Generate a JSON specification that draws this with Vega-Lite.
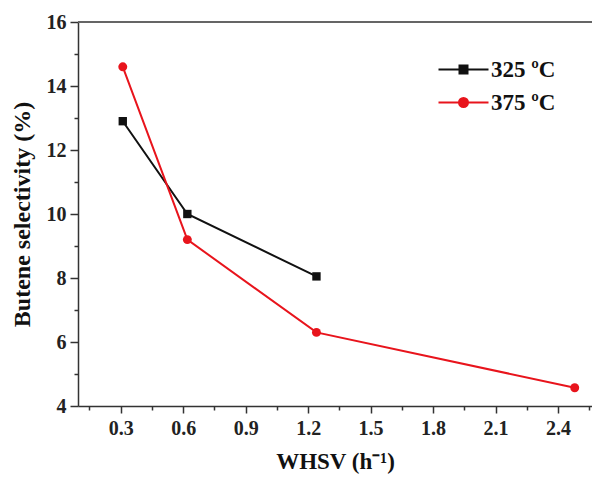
{
  "$schema": "https://vega.github.io/schema/vega-lite/v6.json",
  "autosize": "none",
  "width": 514,
  "height": 384,
  "padding": {"left": 78, "top": 22, "right": 0, "bottom": 73},
  "background": "white",
  "config": {
    "view": {"stroke": null},
    "font": "Liberation Serif",
    "axis": {
      "labelFont": "Liberation Serif",
      "labelFontWeight": "bold",
      "labelFontSize": 20,
      "labelColor": "#222",
      "titleFont": "Liberation Serif",
      "titleFontWeight": "bold",
      "titleFontSize": 23,
      "titleColor": "#111",
      "domainColor": "#333",
      "domainWidth": 1.5,
      "tickColor": "#333",
      "tickWidth": 1.5,
      "grid": false
    }
  },
  "data": {
    "values": [
      {"series": "325 ºC", "whsv": 0.31, "sel": 12.9},
      {"series": "325 ºC", "whsv": 0.62, "sel": 10.0},
      {"series": "325 ºC", "whsv": 1.24, "sel": 8.05},
      {"series": "375 ºC", "whsv": 0.31, "sel": 14.6},
      {"series": "375 ºC", "whsv": 0.62, "sel": 9.2},
      {"series": "375 ºC", "whsv": 1.24, "sel": 6.3},
      {"series": "375 ºC", "whsv": 2.48, "sel": 4.57}
    ]
  },
  "resolve": {"axis": {"x": "independent", "y": "independent"}},
  "layer": [
    {
      "mark": {"type": "rule", "color": "#666", "strokeWidth": 1.5},
      "encoding": {"y": {"datum": 16, "axis": null}}
    },
    {
      "mark": {"type": "line", "strokeWidth": 2},
      "encoding": {
        "x": {
          "field": "whsv", "type": "quantitative",
          "scale": {"domain": [0.095, 2.563], "nice": false, "zero": false},
          "axis": {
            "orient": "bottom",
            "values": [0.3, 0.6, 0.9, 1.2, 1.5, 1.8, 2.1, 2.4],
            "format": ".1f",
            "tickSize": 7,
            "labelPadding": 5,
            "title": "WHSV (h⁻¹)",
            "titlePadding": 12,
            "encode": {"labels": {"update": {"fontWeight": {"value": "bold"}}}}
          }
        },
        "y": {
          "field": "sel", "type": "quantitative",
          "scale": {"domain": [4, 16], "nice": false, "zero": false},
          "axis": {
            "orient": "left",
            "values": [4, 6, 8, 10, 12, 14, 16],
            "tickSize": 8,
            "labelPadding": 4,
            "title": "Butene selectivity (%)",
            "titleFontSize": 24,
            "titlePadding": 12,
            "encode": {"labels": {"update": {"fontWeight": {"value": "bold"}}}}
          }
        },
        "color": {
          "field": "series", "type": "nominal",
          "scale": {"domain": ["325 ºC", "375 ºC"], "range": ["#111111", "#e8141c"]},
          "legend": {
            "orient": "none",
            "legendX": 374,
            "legendY": 36,
            "title": null,
            "labelFont": "Liberation Serif",
            "labelFontWeight": "bold",
            "labelFontSize": 23,
            "labelColor": "#111",
            "symbolSize": 400,
            "symbolStrokeWidth": 2,
            "rowPadding": 9,
            "labelOffset": 16,
            "encode": {
              "symbols": {
                "update": {
                  "shape": {"signal": "datum.value === '325 ºC' ? 'M-2.5,0H2.5M-0.4,-0.4H0.4V0.4H-0.4Z' : 'M-2.5,0H-0.45A0.45,0.45,0,1,1,0.45,0A0.45,0.45,0,1,1,-0.45,0M0.45,0H2.5'"},
                  "stroke": {"signal": "datum.value === '325 ºC' ? '#111111' : '#e8141c'"},
                  "fill": {"signal": "datum.value === '325 ºC' ? '#111111' : '#e8141c'"},
                  "strokeWidth": {"value": 2},
                  "opacity": {"value": 1}
                }
              }
            }
          }
        },
        "detail": {"field": "series"}
      }
    },
    {
      "transform": [{"filter": "datum.series === '325 ºC'"}],
      "mark": {"type": "point", "filled": true, "opacity": 1, "shape": "square", "color": "#111111", "size": 70},
      "encoding": {
        "x": {
          "field": "whsv", "type": "quantitative",
          "axis": {
            "orient": "bottom",
            "values": [0.15, 0.45, 0.75, 1.05, 1.35, 1.65, 1.95, 2.25, 2.55],
            "labels": false,
            "domain": false,
            "tickSize": 4,
            "title": null
          }
        },
        "y": {
          "field": "sel", "type": "quantitative",
          "axis": {
            "orient": "left",
            "values": [5, 7, 9, 11, 13, 15],
            "labels": false,
            "domain": false,
            "tickSize": 4,
            "title": null
          }
        }
      }
    },
    {
      "transform": [{"filter": "datum.series === '375 ºC'"}],
      "mark": {"type": "point", "filled": true, "opacity": 1, "shape": "circle", "color": "#e8141c", "size": 80},
      "encoding": {
        "x": {"field": "whsv", "type": "quantitative", "axis": null},
        "y": {"field": "sel", "type": "quantitative", "axis": null}
      }
    }
  ]
}
